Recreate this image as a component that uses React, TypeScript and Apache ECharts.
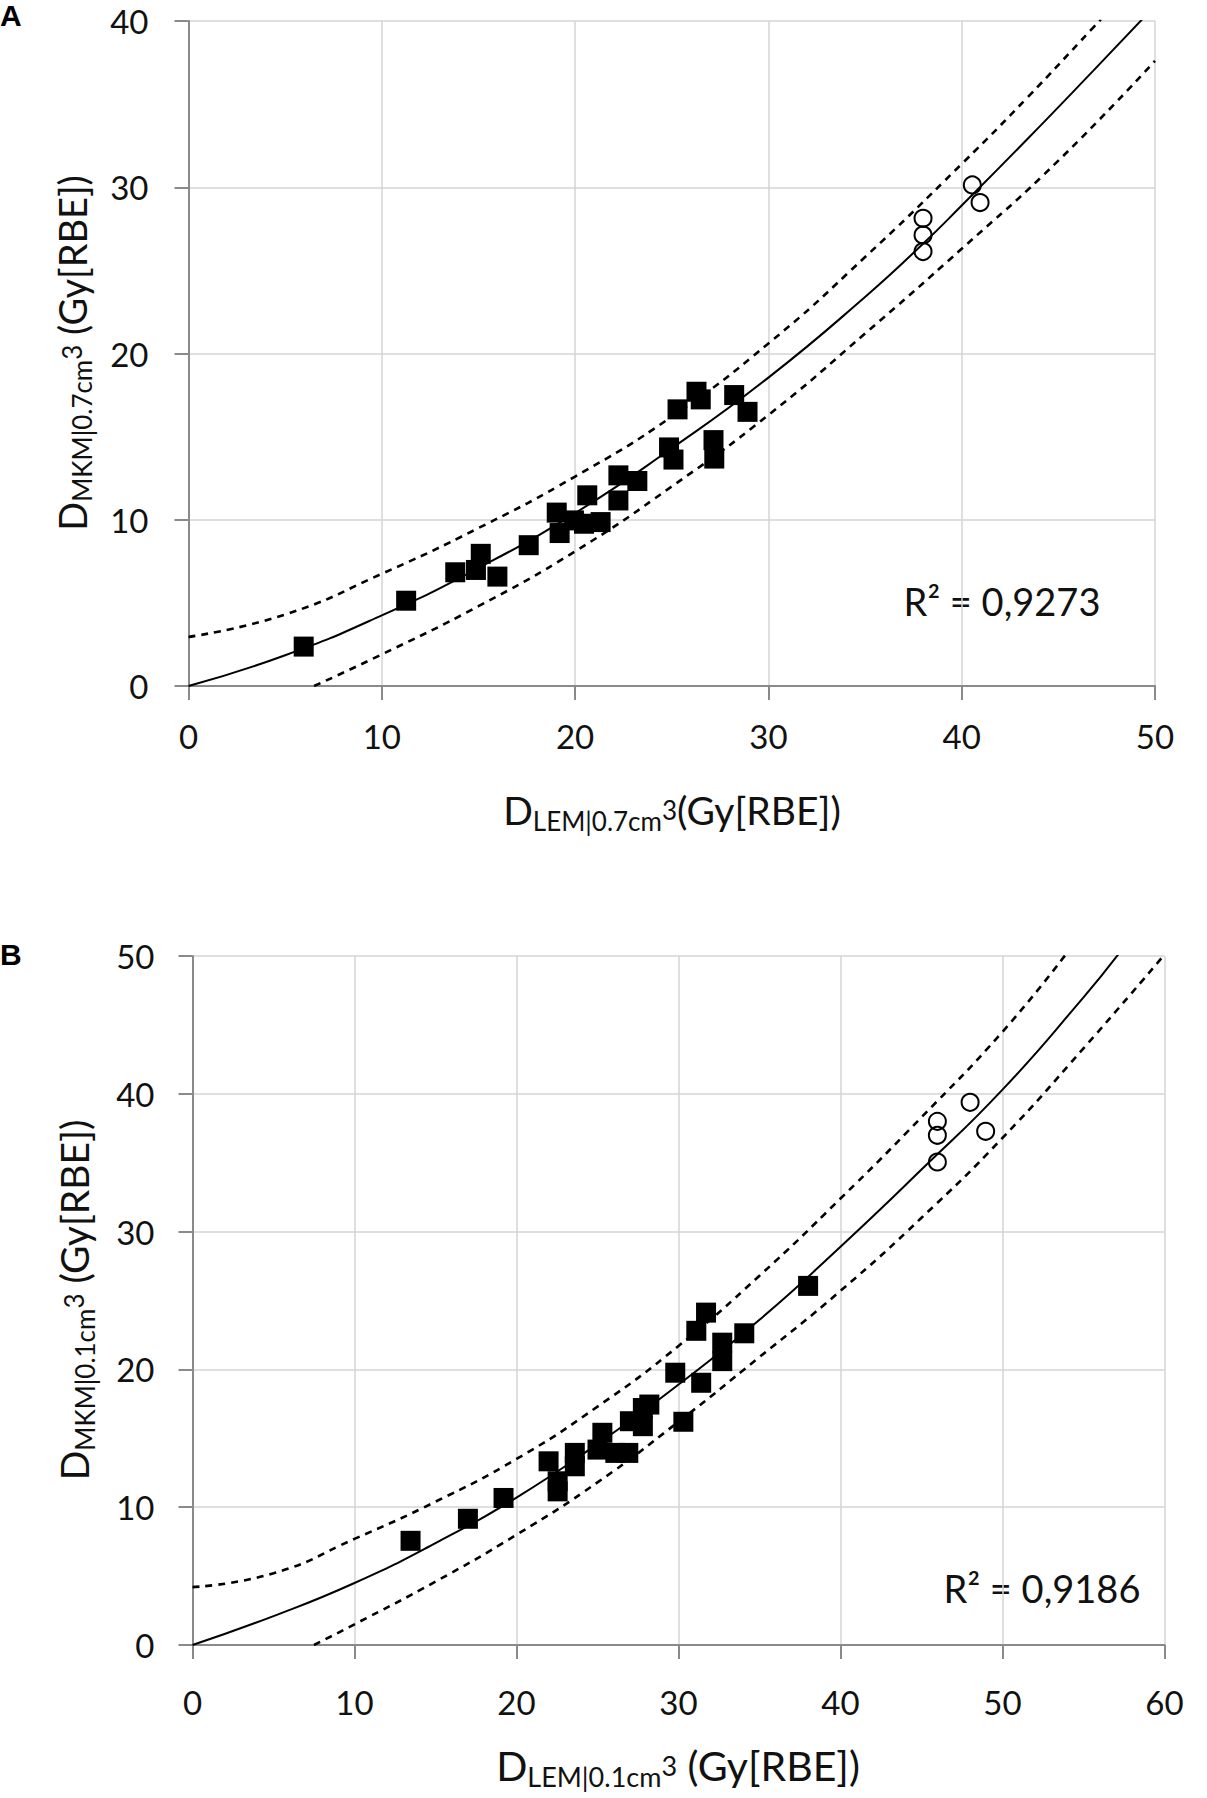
import React, { useEffect, useRef } from "react";
import * as echarts from "echarts";

// ---- Panel A data (D_LEM|0.7cm3 vs D_MKM|0.7cm3) ----
const xTicksA = [0, 10, 20, 30, 40, 50];
const yTicksA = [0, 10, 20, 30, 40];
const squaresA: number[][] = [
  [5.96, 2.37], [11.26, 5.13], [13.8, 6.84], [14.87, 6.98], [15.12, 7.95],
  [15.98, 6.58], [17.6, 8.47], [19.05, 10.43], [19.2, 9.2], [19.94, 9.96],
  [20.46, 9.76], [20.63, 11.47], [21.32, 9.86], [22.24, 12.67], [22.24, 11.16],
  [23.22, 12.33], [24.86, 14.35], [25.09, 13.62], [25.3, 16.64], [26.28, 17.7],
  [26.5, 17.24], [27.16, 14.79], [27.2, 13.68], [28.23, 17.5], [28.92, 16.49],
];
const circlesA: number[][] = [
  [38.0, 28.13], [38.0, 27.13], [38.0, 26.13], [40.55, 30.14], [40.95, 29.08],
];
const fitA: number[][] = [
  [0, 0], [5, 1.85], [10, 4.25], [15, 7.1], [20, 10.4], [25, 14.3], [30, 18.55],
  [35, 23.4], [38, 26.6], [40, 28.9], [43.4, 32.9], [46.8, 37.0], [49.5, 40.3],
];
const upperA: number[][] = [
  [0, 2.95], [5, 4.3], [10, 6.75], [15, 9.5], [20, 12.6], [25, 16.2], [30, 20.6],
  [35, 25.8], [40, 31.4], [43.4, 35.4], [46.8, 39.6], [47.2, 40.1],
];
const lowerA: number[][] = [
  [6.5, 0], [10, 1.9], [15, 4.8], [20, 8.1], [25, 12.0], [30, 16.3], [35, 21.2],
  [40, 26.3], [45, 31.6], [50, 37.6],
];
const r2A = "R² = 0,9273";

// ---- Panel B data (D_LEM|0.1cm3 vs D_MKM|0.1cm3) ----
const xTicksB = [0, 10, 20, 30, 40, 50, 60];
const yTicksB = [0, 10, 20, 30, 40, 50];
const squaresB: number[][] = [
  [13.46, 7.56], [17.0, 9.16], [19.2, 10.67], [21.98, 13.33], [22.54, 11.88],
  [22.54, 11.15], [23.6, 13.94], [23.6, 12.97], [25.0, 14.18], [25.3, 15.4],
  [26.1, 13.94], [26.9, 13.94], [27.0, 16.24], [27.8, 15.88], [27.8, 17.2],
  [28.2, 17.45], [29.8, 19.76], [30.3, 16.2], [31.1, 22.8], [31.7, 24.12],
  [31.4, 19.03], [32.7, 21.94], [32.7, 20.6], [34.06, 22.62], [38.0, 26.06],
];
const circlesB: number[][] = [
  [45.98, 38.0], [45.98, 36.99], [45.98, 35.05], [48.0, 39.38], [48.96, 37.28],
];
const fitB: number[][] = [
  [0, 0], [5, 2.1], [10, 4.5], [15, 7.4], [20, 10.7], [25, 14.6], [30, 18.9],
  [35, 23.6], [40, 28.9], [45, 34.5], [50, 40.3], [55, 47.0], [57.2, 50.2],
];
const upperB: number[][] = [
  [0, 4.2], [5, 5.2], [10, 7.7], [15, 10.4], [20, 13.5], [25, 17.3], [30, 21.7],
  [35, 26.8], [40, 32.4], [45, 38.3], [50, 44.5], [53.9, 50.1],
];
const lowerB: number[][] = [
  [7.5, 0], [10, 1.5], [15, 4.6], [20, 8.0], [25, 11.8], [30, 16.2], [35, 20.9],
  [40, 25.7], [45, 31.0], [50, 36.8], [55, 43.3], [60, 50.1],
];
const r2B = "R² = 0,9186";

const FONT = "Lato, 'Open Sans', sans-serif";
const AXIS_GREY = "#8a8a8a";
const GRID_GREY = "#d4d4d4";

function titleRich(main: number, sub: number) {
  return {
    d: { fontSize: main, fontFamily: FONT, fill: "#111", lineHeight: main + 8, verticalAlign: "middle" },
    s: { fontSize: sub, fontFamily: FONT, fill: "#111", lineHeight: sub, verticalAlign: "bottom" },
    p: { fontSize: sub, fontFamily: FONT, fill: "#111", lineHeight: sub, verticalAlign: "middle" },
  };
}

function axisCfg(gridIndex: number, ticks: number[], margin: number) {
  return {
    gridIndex,
    type: "value",
    min: ticks[0],
    max: ticks[ticks.length - 1],
    interval: ticks[1] - ticks[0],
    axisLine: { show: true, onZero: false, lineStyle: { color: AXIS_GREY, width: 2 } },
    axisTick: { show: true, length: 14, lineStyle: { color: AXIS_GREY, width: 2 } },
    axisLabel: { margin, fontSize: 33, fontFamily: FONT, color: "#111" },
    splitLine: { show: true, lineStyle: { color: GRID_GREY, width: 1.5 } },
  };
}

function panelSeries(idx: number, squares: number[][], circles: number[][], fit: number[][], upper: number[][], lower: number[][]) {
  const base = { xAxisIndex: idx, yAxisIndex: idx, silent: true };
  return [
    {
      ...base, type: "line", data: upper, smooth: 0.5, showSymbol: false, z: 2,
      lineStyle: { color: "#000", width: 2.6, type: [7, 6] },
    },
    {
      ...base, type: "line", data: lower, smooth: 0.5, showSymbol: false, z: 2,
      lineStyle: { color: "#000", width: 2.6, type: [7, 6] },
    },
    {
      ...base, type: "line", data: fit, smooth: 0.5, showSymbol: false, z: 3,
      lineStyle: { color: "#000", width: 2 },
    },
    {
      ...base, type: "scatter", data: squares, symbol: "rect", symbolSize: 20, z: 4,
      itemStyle: { color: "#000", opacity: 1 },
    },
    {
      ...base, type: "scatter", data: circles, symbol: "circle", symbolSize: 17, z: 5,
      itemStyle: { color: "rgba(255,255,255,0)", borderColor: "#000", borderWidth: 2, opacity: 1 },
    },
  ];
}

const panelLabelStyle = (t: string) => ({
  text: t,
  fontSize: 30,
  fontWeight: "bold",
  fontFamily: "'Liberation Sans', Arial, sans-serif",
  fill: "#000",
});

export default function App() {
  const ref = useRef<HTMLDivElement>(null);

  useEffect(() => {
    document.body.style.margin = "0";
    if (!ref.current) return;
    const chart = echarts.init(ref.current, undefined, { renderer: "svg" });

    const gridA = { left: 188.5, top: 21, width: 966.5, height: 665 };
    const gridB = { left: 192.5, top: 956, width: 972, height: 689 };

    const option = {
      animation: false,
      backgroundColor: "#fff",
      grid: [
        { ...gridA, containLabel: false, show: false },
        { ...gridB, containLabel: false, show: false },
      ],
      xAxis: [axisCfg(0, xTicksA, 33), axisCfg(1, xTicksB, 40)],
      yAxis: [axisCfg(0, yTicksA, 40), axisCfg(1, yTicksB, 38)],
      series: [
        ...panelSeries(0, squaresA, circlesA, fitA, upperA, lowerA),
        ...panelSeries(1, squaresB, circlesB, fitB, upperB, lowerB),
      ],
      graphic: [
        { type: "text", x: 0, y: 0, style: { ...panelLabelStyle("A"), verticalAlign: "top" } },
        { type: "text", x: 0, y: 939, style: { ...panelLabelStyle("B"), verticalAlign: "top" } },
        {
          type: "text", x: 672, y: 810,
          style: { text: "{d|D}{s|LEM|0.7cm}{p|3}{d|(Gy[RBE])}", rich: titleRich(39, 26), align: "center", verticalAlign: "middle" },
        },
        {
          type: "text", x: 72, y: 353, rotation: Math.PI / 2,
          style: { text: "{d|D}{s|MKM|0.7cm}{p|3}{d| (Gy[RBE])}", rich: titleRich(38, 26), align: "center", verticalAlign: "middle" },
        },
        {
          type: "text", x: 678, y: 1765,
          style: { text: "{d|D}{s|LEM|0.1cm}{p|3}{d| (Gy[RBE])}", rich: titleRich(41, 27), align: "center", verticalAlign: "middle" },
        },
        {
          type: "text", x: 74, y: 1300, rotation: Math.PI / 2,
          style: { text: "{d|D}{s|MKM|0.1cm}{p|3}{d| (Gy[RBE])}", rich: titleRich(39, 26), align: "center", verticalAlign: "middle" },
        },
        {
          type: "text", x: 1002, y: 601,
          style: { text: r2A, font: `38px ${FONT}`, fill: "#111", align: "center", verticalAlign: "middle" },
        },
        {
          type: "text", x: 1042, y: 1588,
          style: { text: r2B, font: `38px ${FONT}`, fill: "#111", align: "center", verticalAlign: "middle" },
        },
      ],
    };

    chart.setOption(option as any);
    return () => chart.dispose();
  }, []);

  return <div ref={ref} style={{ width: 1207, height: 1798 }} />;
}
